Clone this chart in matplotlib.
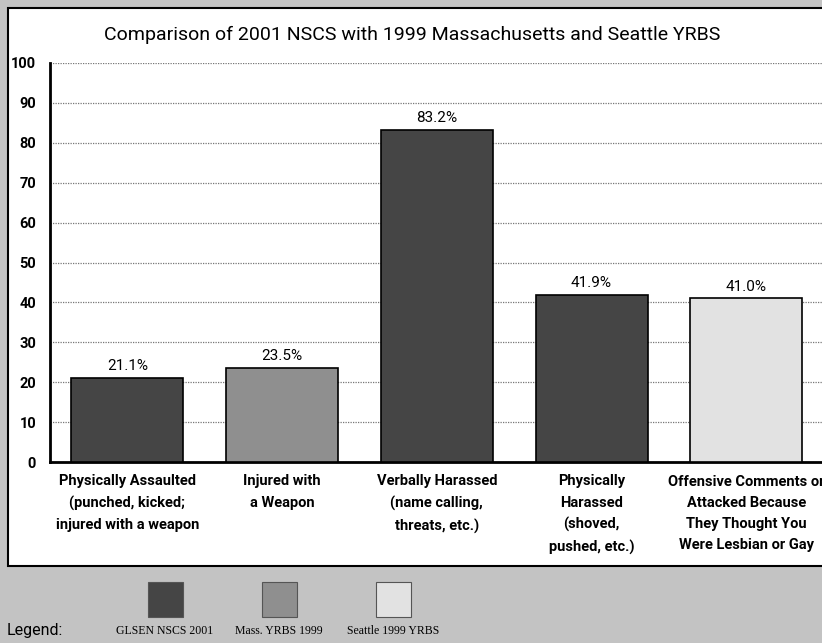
import matplotlib.pyplot as plt
from matplotlib.patches import Rectangle

# chart data
categories = ["Physically Assaulted\n(punched, kicked;\ninjured with a weapon",
              "Injured with\na Weapon",
              "Verbally Harassed\n(name calling,\nthreats, etc.)",
              "Physically\nHarassed\n(shoved,\npushed, etc.)",
              "Offensive Comments or\nAttacked Because\nThey Thought You\nWere Lesbian or Gay"]
values = [21.1, 23.5, 83.2, 41.9, 41.0]
sources = ["GLSEN NSCS 2001", "Mass. YRBS 1999", "GLSEN NSCS 2001",
           "GLSEN NSCS 2001", "Seattle 1999 YRBS"]
legend_names = ["GLSEN NSCS 2001", "Mass. YRBS 1999", "Seattle 1999 YRBS"]
yticks = list(range(0, 101, 10))
title = "Comparison of 2001 NSCS with 1999 Massachusetts and Seattle YRBS"

colors = {"GLSEN NSCS 2001": "#454545",
          "Mass. YRBS 1999": "#8f8f8f",
          "Seattle 1999 YRBS": "#e2e2e2"}

plt.rcParams['font.family'] = ['Roboto', 'DejaVu Sans']

W, H = 822, 643
fig = plt.figure(figsize=(W / 100, H / 100), dpi=100, facecolor="#c3c3c3")

# white panel behind the chart
fig.patches.append(Rectangle((8 / W, 1 - 566 / H), 1.0, (566 - 8) / H,
                             transform=fig.transFigure, facecolor="white",
                             edgecolor="black", lw=1.5, zorder=-5))

ax = fig.add_axes([50 / W, 1 - 462 / H, 1 - 50 / W + 0.002, (462 - 63) / H])
ax.set_facecolor("none")

x = list(range(len(values)))
bar_colors = [colors[s] for s in sources]
ax.bar(x, values, width=0.724, color=bar_colors, edgecolor="black", lw=1.2, zorder=3)

for i, v in zip(x, values):
    ax.text(i, v + 1.2, "%.1f%%" % v, ha="center", va="bottom", fontsize=11, zorder=4)

ax.set_xlim(-0.5, 4.5)
ax.set_ylim(0, 100)
ax.set_yticks(yticks)
ax.set_yticklabels([str(t) for t in yticks], fontsize=10.5, fontweight="bold")
ax.set_xticks(x)
ax.set_xticklabels(categories, fontsize=10.5, fontweight="bold", linespacing=1.65)
ax.tick_params(axis="y", length=0, pad=10)
ax.tick_params(axis="x", length=0, pad=9)

ax.grid(axis="y", linestyle=(0, (1, 1)), color="#777777", lw=0.9, zorder=1)
for s in ["top", "right"]:
    ax.spines[s].set_visible(False)
ax.spines["left"].set_linewidth(2)
ax.spines["bottom"].set_linewidth(2)

fig.text(412 / W, 1 - 35 / H, title, ha="center", va="center", fontsize=14)

# legend under the panel
fig.text(7 / W, 1 - 630 / H, "Legend:", ha="left", va="center", fontsize=11.5)
leg_x = [148, 262, 376]
for lx, name in zip(leg_x, legend_names):
    fig.patches.append(Rectangle((lx / W, 1 - 617 / H), 35 / W, 35 / H,
                                 transform=fig.transFigure, facecolor=colors[name],
                                 edgecolor="#555555", lw=0.8))
    fig.text((lx + 17) / W, 1 - 631 / H, name, ha="center", va="center",
             fontsize=8.5, family="Liberation Serif")

fig.savefig("out.png", dpi=100, facecolor=fig.get_facecolor())
